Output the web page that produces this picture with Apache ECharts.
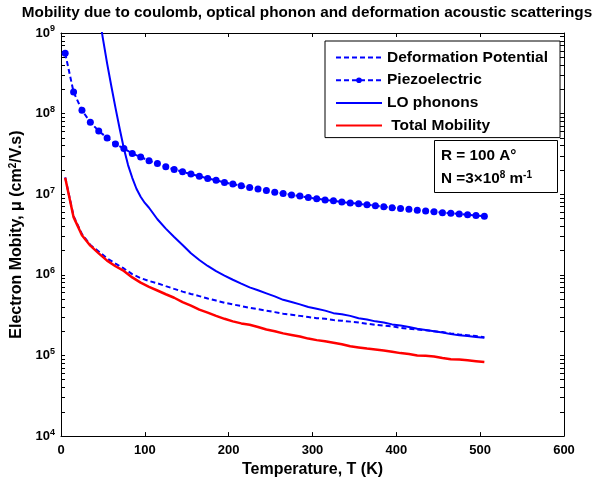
<!DOCTYPE html>
<html>
<head>
<meta charset="utf-8">
<script src="https://cdn.jsdelivr.net/npm/echarts@6/dist/echarts.min.js"></script>
<style>
html,body{margin:0;padding:0;background:#fff;}
#chart{width:602px;height:483px;}
</style>
</head>
<body>
<div id="chart"></div>
<script>
// Temperature samples (K)
const temps = [5,15,25,35,45,55,65,75,85,95,105,115,125,135,145,155,165,175,185,195,205,215,225,235,245,255,265,275,285,295,305,315,325,335,345,355,365,375,385,395,405,415,425,435,445,455,465,475,485,495,505];
// Mobility values (cm^2/V.s)
const deformation = [1.62e7,5.35e6,3.2e6,2.35e6,1.95e6,1.6e6,1.38e6,1.2e6,1.02e6,9.1e5,8.4e5,7.85e5,7.25e5,6.7e5,6.2e5,5.8e5,5.45e5,5.1e5,4.8e5,4.5e5,4.3e5,4.1e5,3.9e5,3.75e5,3.6e5,3.45e5,3.3e5,3.2e5,3.1e5,3.0e5,2.9e5,2.85e5,2.75e5,2.7e5,2.63e5,2.57e5,2.48e5,2.4e5,2.35e5,2.3e5,2.2e5,2.15e5,2.1e5,2.05e5,2.0e5,1.95e5,1.88e5,1.82e5,1.78e5,1.74e5,1.68e5];
const piezo = [5.6e8,1.85e8,1.1e8,7.8e7,6.1e7,5.0e7,4.2e7,3.7e7,3.2e7,2.9e7,2.6e7,2.4e7,2.2e7,2.03e7,1.9e7,1.78e7,1.67e7,1.57e7,1.49e7,1.4e7,1.34e7,1.27e7,1.21e7,1.16e7,1.11e7,1.06e7,1.02e7,9.8e6,9.5e6,9.1e6,8.8e6,8.5e6,8.3e6,8.0e6,7.8e6,7.6e6,7.4e6,7.2e6,7.0e6,6.8e6,6.65e6,6.5e6,6.35e6,6.2e6,6.05e6,5.9e6,5.8e6,5.7e6,5.55e6,5.45e6,5.35e6];
const loTemps = [45,50,55,60,65,70,75,80,85,90,95,100,105,115,125,135,145,155,165,175,185,195,205,215,225,235,245,255,265,275,285,295,305,315,325,335,345,355,365,375,385,395,405,415,425,435,445,455,465,475,485,495,505];
const loPhonons = [1.8e9,8.5e8,4.2e8,2.2e8,1.18e8,6.5e7,3.7e7,2.3e7,1.6e7,1.17e7,9.3e6,7.8e6,6.8e6,4.9e6,3.75e6,2.95e6,2.35e6,1.85e6,1.53e6,1.29e6,1.11e6,9.8e5,8.7e5,7.8e5,7.0e5,6.45e5,5.9e5,5.4e5,4.9e5,4.6e5,4.3e5,4.0e5,3.8e5,3.6e5,3.35e5,3.25e5,3.1e5,2.9e5,2.8e5,2.65e5,2.57e5,2.43e5,2.35e5,2.26e5,2.14e5,2.07e5,2.0e5,1.93e5,1.84e5,1.78e5,1.74e5,1.7e5,1.66e5];
const total = [1.6e7,5.2e6,3.1e6,2.3e6,1.85e6,1.5e6,1.28e6,1.12e6,9.3e5,8.0e5,7.1e5,6.4e5,5.75e5,5.2e5,4.6e5,4.15e5,3.7e5,3.4e5,3.1e5,2.85e5,2.65e5,2.5e5,2.4e5,2.26e5,2.1e5,2.0e5,1.88e5,1.8e5,1.72e5,1.62e5,1.55e5,1.5e5,1.44e5,1.38e5,1.3e5,1.26e5,1.22e5,1.19e5,1.15e5,1.11e5,1.07e5,1.04e5,1.0e5,9.9e4,9.7e4,9.3e4,9.0e4,8.9e4,8.7e4,8.5e4,8.3e4];
// Axis ticks
const xTicks = [0,100,200,300,400,500,600];
const yExponents = [4,5,6,7,8,9];
const minorMultipliers = [1,2,3,4,5,6,7,8,9];

const FONT = 'Liberation Sans, Arial, sans-serif';
const pairs = (xs, arr) => xs.map((t,i) => [t, arr[i]]);

const yTickValues = [];
yExponents.forEach((e, i) => {
  if (i < yExponents.length - 1) minorMultipliers.forEach(m => yTickValues.push(m * Math.pow(10, e)));
  else yTickValues.push(Math.pow(10, e));
});
const yLabelValues = yExponents.map(e => Math.pow(10, e));

const chart = echarts.init(document.getElementById('chart'), null, {renderer: 'canvas'});

const baseX = {
  type: 'value', min: xTicks[0], max: xTicks[xTicks.length-1], interval: 100,
  axisLine: {show: true, onZero: false, lineStyle: {color: '#000', width: 1}},
  axisTick: {show: true, inside: true, length: 4, lineStyle: {color: '#000'}},
  splitLine: {show: false}
};
const baseY = {
  type: 'log', logBase: 10, min: 1e4, max: 1e9,
  axisLine: {show: true, onZero: false, lineStyle: {color: '#000', width: 1}},
  axisTick: {show: true, inside: true, length: 4, customValues: yTickValues, lineStyle: {color: '#000'}},
  splitLine: {show: false}
};
const hidden = {color: 'rgba(0,0,0,0)', opacity: 0, borderWidth: 0};

const option = {
  animation: false,
  backgroundColor: '#fff',
  grid: {left: 61, right: 38, top: 33, bottom: 46, containLabel: false},
  xAxis: [
    Object.assign({}, baseX, {
      position: 'bottom',
      name: 'Temperature, T (K)', nameLocation: 'middle', nameGap: 25,
      nameTextStyle: {fontFamily: FONT, fontWeight: 'bold', fontSize: 16, color: '#000'},
      axisLabel: {show: true, margin: 8, fontFamily: FONT, fontWeight: 'bold', fontSize: 13, color: '#000',
        customValues: xTicks}
    }),
    Object.assign({}, baseX, {position: 'top', axisLabel: {show: false}})
  ],
  yAxis: [
    Object.assign({}, baseY, {
      position: 'left',
      name: 'Electron Mobity, μ (cm{s|2}/V.s)', nameLocation: 'middle', nameGap: 35,
      nameTextStyle: {fontFamily: FONT, fontWeight: 'bold', fontSize: 16, color: '#000',
        rich: {s: {fontFamily: FONT, fontWeight: 'bold', fontSize: 10, color: '#000', verticalAlign: 'top', padding: [0,0,7,0]}}},
      axisLabel: {
        show: true, margin: 6, customValues: yLabelValues,
        formatter: v => '{b|10}{e|' + Math.round(Math.log10(v)) + '}',
        rich: {
          b: {fontFamily: FONT, fontWeight: 'bold', fontSize: 13, color: '#000'},
          e: {fontFamily: FONT, fontWeight: 'bold', fontSize: 9, color: '#000', verticalAlign: 'top', padding: [0,0,8,0]}
        }
      }
    }),
    Object.assign({}, baseY, {position: 'right', axisLabel: {show: false}})
  ],
  legend: {
    show: true, orient: 'vertical', left: 325, top: 41,
    backgroundColor: '#fff', borderColor: '#000', borderWidth: 1, borderRadius: 0,
    padding: [8.5, 12, 4, 10],
    itemWidth: 46, itemHeight: 7, itemGap: 6.7,
    textStyle: {fontFamily: FONT, fontWeight: 'bold', fontSize: 15.5, color: '#000'},
    selectedMode: false,
    data: [
      {name: 'Deformation Potential', itemStyle: hidden},
      {name: 'Piezoelectric'},
      {name: 'LO phonons', itemStyle: hidden},
      {name: ' Total Mobility', itemStyle: hidden}
    ]
  },
  graphic: [
    {type: 'text', x: 307, y: 13, z: 10,
      style: {text: 'Mobility due to coulomb, optical phonon and deformation acoustic scatterings',
        font: 'bold 15.3px ' + FONT, fill: '#000', align: 'center', verticalAlign: 'middle'}},
    {type: 'rect', z: 10, shape: {x: 434.5, y: 140.5, width: 123, height: 52},
      style: {fill: '#fff', stroke: '#000', lineWidth: 1}},
    {type: 'text', x: 441, y: 156, z: 11,
      style: {text: 'R = 100 A°', font: 'bold 15.3px ' + FONT, fill: '#000', verticalAlign: 'middle'}},
    {type: 'text', x: 441, y: 179, z: 11,
      style: {text: 'N =3×10{s|8} m{s|-1}', font: 'bold 15.3px ' + FONT, fill: '#000', verticalAlign: 'middle',
        rich: {s: {font: 'bold 10px ' + FONT, fill: '#000', verticalAlign: 'top', padding: [0,0,8,0]}}}}
  ],
  series: [
    {name: 'Deformation Potential', type: 'line', data: pairs(temps, deformation), showSymbol: false, symbol: 'none',
      lineStyle: {color: '#0000ff', width: 2, type: [5, 3]}, itemStyle: {color: '#0000ff'}, z: 2},
    {name: 'Piezoelectric', type: 'line', data: pairs(temps, piezo), symbol: 'circle', symbolSize: 7, showSymbol: true,
      lineStyle: {color: '#0000ff', width: 2, type: [5, 3]}, itemStyle: {color: '#0000ff'}, z: 3},
    {name: 'LO phonons', type: 'line', data: pairs(loTemps, loPhonons), showSymbol: false, symbol: 'none',
      lineStyle: {color: '#0000ff', width: 2}, itemStyle: {color: '#0000ff'}, z: 4},
    {name: ' Total Mobility', type: 'line', data: pairs(temps, total), showSymbol: false, symbol: 'none',
      lineStyle: {color: '#ff0000', width: 2.5}, itemStyle: {color: '#ff0000'}, z: 5}
  ]
};
chart.setOption(option);
</script>
</body>
</html>
